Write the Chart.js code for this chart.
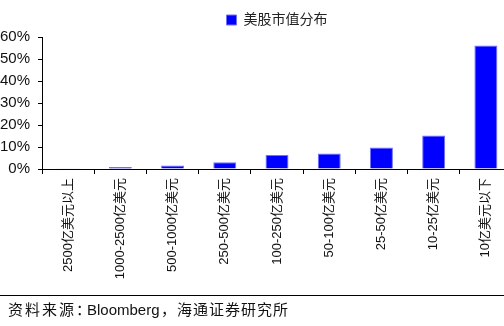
<!DOCTYPE html>
<html>
<head>
<meta charset="utf-8">
<script src="https://cdn.jsdelivr.net/npm/chart.js@4/dist/chart.umd.min.js"></script>
<style>
  html, body { margin: 0; padding: 0; background: #fff; overflow: hidden; }
  #wrap { width: 504px; height: 326px; overflow: hidden; }
  #wrap canvas { display: block; }
</style>
</head>
<body>
<div id="wrap"><canvas id="mktChart" width="512" height="326"></canvas></div>
<script>
const categories = ['2500亿美元以上', '1000-2500亿美元', '500-1000亿美元', '250-500亿美元',
  '100-250亿美元', '50-100亿美元', '25-50亿美元', '10-25亿美元', '10亿美元以下'];
const shareValues = [0.3, 0.9, 1.6, 3.1, 6.4, 7.0, 9.8, 15.2, 56.1];
const yTicks = [0, 10, 20, 30, 40, 50, 60];

const fontFam = '"Liberation Sans", Arial, "Noto Sans CJK SC", sans-serif';

// bottom rule + source note
const sourceNote = {
  id: 'sourceNote',
  afterDraw(chart) {
    const c = chart.ctx;
    c.save();
    c.strokeStyle = '#000';
    c.lineWidth = 1;
    c.beginPath();
    c.moveTo(0, 295.5);
    c.lineTo(chart.width, 295.5);
    c.stroke();
    c.fillStyle = '#111';
    c.font = '15px ' + fontFam;
    c.textBaseline = 'middle';
    // CJK parts are set a bit looser, like the original
    c.letterSpacing = '2px';
    c.fillText('资料来源：', 8, 311);
    c.letterSpacing = '0px';
    c.fillText('Bloomberg', 87, 311);
    c.letterSpacing = '1px';
    c.fillText('，海通证券研究所', 161, 311);
    c.restore();
  }
};

const ctx = document.getElementById('mktChart').getContext('2d');
new Chart(ctx, {
  type: 'bar',
  data: {
    labels: categories,
    datasets: [{
      label: '美股市值分布',
      data: shareValues,
      backgroundColor: '#0000ff',
      borderColor: '#7070ff',
      borderWidth: 1,
      barPercentage: 0.44,
      categoryPercentage: 1
    }]
  },
  options: {
    responsive: false,
    animation: false,
    layout: { padding: { top: 4, right: 0, bottom: 31, left: 0 } },
    plugins: {
      legend: {
        position: 'top',
        fullSize: false,
        labels: {
          boxWidth: 10,
          boxHeight: 10,
          color: '#222',
          font: { size: 14, family: fontFam },
          padding: 9
        }
      },
      tooltip: { enabled: false }
    },
    scales: {
      x: {
        grid: { display: true, drawOnChartArea: false, color: '#000', tickLength: 5 },
        border: { color: '#000' },
        ticks: {
          minRotation: 90,
          maxRotation: 90,
          color: '#111',
          padding: 4,
          font: { size: 13, family: fontFam }
        },
        afterFit(s) { s.height = 126; }
      },
      y: {
        min: 0,
        max: 60,
        afterBuildTicks(s) { s.ticks = yTicks.map(v => ({ value: v })); },
        grid: { display: true, drawOnChartArea: false, color: '#000', tickLength: 4 },
        border: { color: '#000' },
        ticks: {
          color: '#111',
          padding: 8,
          font: { size: 15, family: fontFam },
          callback: v => v + '%'
        },
        afterFit(s) { s.width = 42; }
      }
    }
  },
  plugins: [sourceNote]
});
</script>
</body>
</html>
